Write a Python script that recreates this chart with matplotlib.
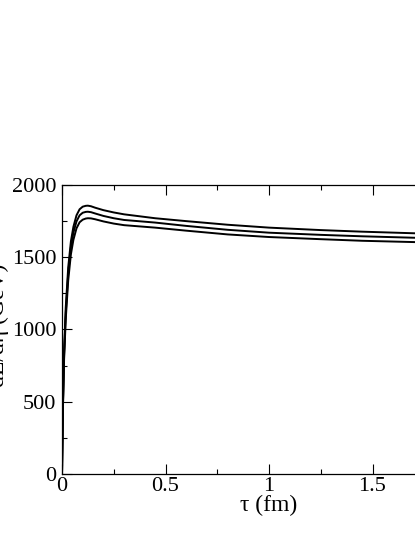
import matplotlib
matplotlib.use("Agg")
import matplotlib.pyplot as plt
from matplotlib.ticker import MultipleLocator

tau = [0, 0.005, 0.01, 0.018, 0.03, 0.043, 0.055, 0.07, 0.085, 0.10, 0.115, 0.125,
       0.14, 0.16, 0.20, 0.25, 0.30, 0.45, 0.60, 0.80, 1.00, 1.25, 1.45, 1.70, 2.00]
curve_top = [0, 520, 850, 1150, 1430, 1610, 1710, 1790, 1832, 1850, 1856, 1857,
             1853, 1843, 1826, 1810, 1797, 1770, 1750, 1725, 1705, 1688, 1677, 1666, 1655]
curve_mid = [0, 500, 820, 1110, 1390, 1570, 1670, 1748, 1790, 1808, 1814, 1815,
             1812, 1803, 1786, 1770, 1758, 1740, 1717, 1690, 1670, 1655, 1645, 1635, 1625]
curve_bot = [0, 480, 790, 1070, 1340, 1520, 1620, 1700, 1742, 1760, 1768, 1770,
             1769, 1763, 1748, 1733, 1722, 1705, 1684, 1658, 1640, 1625, 1614, 1605, 1595]

xticks = [0, 0.5, 1, 1.5]
xticklabels = ['0', '0.5', '1', '1.5']
xlabel = "τ (fm)"
ylabel = "dE/dη (GeV)"

plt.rcParams['font.family'] = ['Liberation Serif', 'DejaVu Serif']

fig = plt.figure(figsize=(4.15, 5.37), dpi=100)
ax = fig.add_axes([62/415, 63/537, 414/415, 289/537])

for y in (curve_top, curve_mid, curve_bot):
    ax.plot(tau, y, color='black', lw=1.4)

ax.set_xlim(0, 2)
ax.set_ylim(0, 2000)
ax.set_xticks(xticks)
ax.set_xticklabels(xticklabels)
ax.xaxis.set_minor_locator(MultipleLocator(0.25))
ax.yaxis.set_major_locator(MultipleLocator(500))
ax.yaxis.set_minor_locator(MultipleLocator(250))
ax.tick_params(which='both', direction='in', top=True, right=True, labelsize=16, width=0.8)
ax.tick_params(which='major', length=7, pad=2)
ax.tick_params(which='minor', length=3.5)
ax.tick_params(axis='y', which='major', pad=4)
for s in ax.spines.values():
    s.set_linewidth(0.9)

ax.set_xlabel(xlabel, fontsize=17, labelpad=-1)
fig.text(-2/415, 212/537, ylabel, rotation=90, ha='center', va='center', fontsize=17)

fig.savefig("out.png", dpi=100)
